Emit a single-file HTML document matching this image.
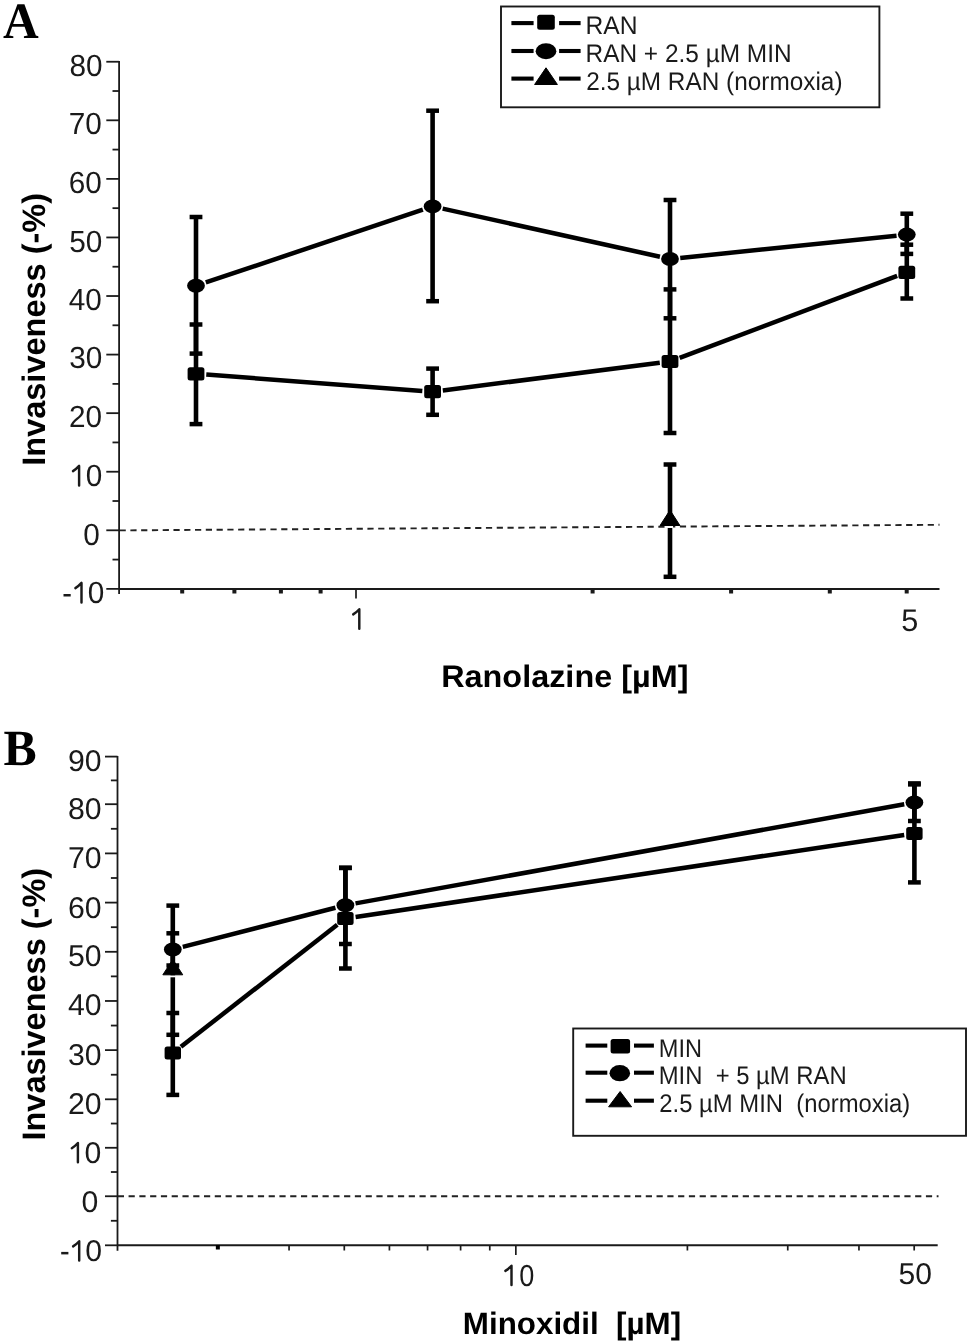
<!DOCTYPE html>
<html><head><meta charset="utf-8"><style>html,body{margin:0;padding:0;background:#fff;overflow:hidden}svg{display:block;will-change:transform}text{white-space:pre}svg{text-rendering:geometricPrecision}</style></head>
<body>
<svg width="968" height="1343" viewBox="0 0 968 1343">
<rect width="968" height="1343" fill="#fff"/>
<text transform="translate(2.92,37.60) scale(0.9694,1.0015)" font-family="'Liberation Serif', serif" font-weight="bold" font-size="51">A</text>
<line x1="119.10" y1="61.00" x2="119.10" y2="594.00" stroke="#1a1a1a" stroke-width="1.8"/>
<line x1="106.30" y1="61.74" x2="119.10" y2="61.74" stroke="#1a1a1a" stroke-width="1.8"/>
<line x1="106.30" y1="120.31" x2="119.10" y2="120.31" stroke="#1a1a1a" stroke-width="1.8"/>
<line x1="106.30" y1="178.88" x2="119.10" y2="178.88" stroke="#1a1a1a" stroke-width="1.8"/>
<line x1="106.30" y1="237.45" x2="119.10" y2="237.45" stroke="#1a1a1a" stroke-width="1.8"/>
<line x1="106.30" y1="296.02" x2="119.10" y2="296.02" stroke="#1a1a1a" stroke-width="1.8"/>
<line x1="106.30" y1="354.59" x2="119.10" y2="354.59" stroke="#1a1a1a" stroke-width="1.8"/>
<line x1="106.30" y1="413.16" x2="119.10" y2="413.16" stroke="#1a1a1a" stroke-width="1.8"/>
<line x1="106.30" y1="471.73" x2="119.10" y2="471.73" stroke="#1a1a1a" stroke-width="1.8"/>
<line x1="106.30" y1="530.30" x2="119.10" y2="530.30" stroke="#1a1a1a" stroke-width="1.8"/>
<line x1="106.30" y1="588.87" x2="119.10" y2="588.87" stroke="#1a1a1a" stroke-width="1.8"/>
<line x1="112.50" y1="91.02" x2="119.10" y2="91.02" stroke="#1a1a1a" stroke-width="1.8"/>
<line x1="112.50" y1="149.59" x2="119.10" y2="149.59" stroke="#1a1a1a" stroke-width="1.8"/>
<line x1="112.50" y1="208.16" x2="119.10" y2="208.16" stroke="#1a1a1a" stroke-width="1.8"/>
<line x1="112.50" y1="266.73" x2="119.10" y2="266.73" stroke="#1a1a1a" stroke-width="1.8"/>
<line x1="112.50" y1="325.30" x2="119.10" y2="325.30" stroke="#1a1a1a" stroke-width="1.8"/>
<line x1="112.50" y1="383.87" x2="119.10" y2="383.87" stroke="#1a1a1a" stroke-width="1.8"/>
<line x1="112.50" y1="442.44" x2="119.10" y2="442.44" stroke="#1a1a1a" stroke-width="1.8"/>
<line x1="112.50" y1="501.01" x2="119.10" y2="501.01" stroke="#1a1a1a" stroke-width="1.8"/>
<line x1="112.50" y1="559.58" x2="119.10" y2="559.58" stroke="#1a1a1a" stroke-width="1.8"/>
<text transform="translate(69.41,76.26) scale(0.9450,0.9708)" font-family="'Liberation Sans', sans-serif" font-weight="normal" font-size="31.5" fill="#1a1a1a">80</text>
<text transform="translate(68.71,134.46) scale(0.9450,0.9708)" font-family="'Liberation Sans', sans-serif" font-weight="normal" font-size="31.5" fill="#1a1a1a">70</text>
<text transform="translate(68.71,193.06) scale(0.9450,0.9708)" font-family="'Liberation Sans', sans-serif" font-weight="normal" font-size="31.5" fill="#1a1a1a">60</text>
<text transform="translate(69.21,251.66) scale(0.9450,0.9708)" font-family="'Liberation Sans', sans-serif" font-weight="normal" font-size="31.5" fill="#1a1a1a">50</text>
<text transform="translate(68.71,309.66) scale(0.9450,0.9708)" font-family="'Liberation Sans', sans-serif" font-weight="normal" font-size="31.5" fill="#1a1a1a">40</text>
<text transform="translate(69.21,368.26) scale(0.9450,0.9708)" font-family="'Liberation Sans', sans-serif" font-weight="normal" font-size="31.5" fill="#1a1a1a">30</text>
<text transform="translate(68.91,426.56) scale(0.9450,0.9708)" font-family="'Liberation Sans', sans-serif" font-weight="normal" font-size="31.5" fill="#1a1a1a">20</text>
<text transform="translate(85.84,486.16) scale(0.9450,0.9708)" font-family="'Liberation Sans', sans-serif" font-weight="normal" font-size="31.5" fill="#1a1a1a">0</text>
<path d="M73.00 471.10 Q76.10 469.20 79.10 465.90 L79.10 485.50" fill="none" stroke="#1a1a1a" stroke-width="2.45" stroke-linecap="round" stroke-linejoin="round"/>
<text transform="translate(83.24,544.56) scale(0.9450,0.9708)" font-family="'Liberation Sans', sans-serif" font-weight="normal" font-size="31.5" fill="#1a1a1a">0</text>
<text transform="translate(87.74,603.16) scale(0.9450,0.9708)" font-family="'Liberation Sans', sans-serif" font-weight="normal" font-size="31.5" fill="#1a1a1a">0</text>
<path d="M75.40 588.10 Q78.50 586.20 81.50 582.90 L81.50 602.50" fill="none" stroke="#1a1a1a" stroke-width="2.45" stroke-linecap="round" stroke-linejoin="round"/>
<rect x="63.50" y="594.00" width="7.2" height="2.5" fill="#1a1a1a"/>
<line x1="119.10" y1="589.00" x2="939.50" y2="589.00" stroke="#1a1a1a" stroke-width="1.9"/>
<rect x="180.20" y="589" width="4" height="4.5" fill="#1a1a1a"/>
<rect x="232.40" y="589" width="4" height="4.5" fill="#1a1a1a"/>
<rect x="278.90" y="589" width="4" height="4.5" fill="#1a1a1a"/>
<rect x="318.60" y="589" width="4" height="4.5" fill="#1a1a1a"/>
<rect x="590.60" y="589" width="4" height="4.5" fill="#1a1a1a"/>
<rect x="729.10" y="589" width="4" height="4.5" fill="#1a1a1a"/>
<rect x="827.80" y="589" width="4" height="4.5" fill="#1a1a1a"/>
<rect x="904.70" y="589" width="4" height="4.5" fill="#1a1a1a"/>
<line x1="356.00" y1="589.00" x2="356.00" y2="598.60" stroke="#1a1a1a" stroke-width="1.7"/>
<path d="M353.20 614.40 Q356.30 612.50 359.30 609.20 L359.30 628.70" fill="none" stroke="#1a1a1a" stroke-width="2.45" stroke-linecap="round" stroke-linejoin="round"/>
<text transform="translate(901.28,631.15) scale(0.9733,0.9955)" font-family="'Liberation Sans', sans-serif" font-weight="normal" font-size="31.5" fill="#1a1a1a">5</text>
<line x1="119.6" y1="530.4" x2="939.5" y2="524.8" stroke="#222" stroke-width="1.9" stroke-dasharray="6.2 4.575"/>
<text transform="translate(441.14,687.30) scale(1.0033,0.9633)" font-family="'Liberation Sans', sans-serif" font-weight="bold" font-size="32.3">Ranolazine [µM]</text>
<text transform="translate(44.80,465.75) rotate(-90) scale(1.0000,1)" font-family="'Liberation Sans', sans-serif" font-weight="bold" font-size="32.5">Invasiveness (-%)</text>
<line x1="196.00" y1="217.00" x2="196.00" y2="353.60" stroke="#000" stroke-width="4.6"/>
<line x1="189.60" y1="217.00" x2="202.40" y2="217.00" stroke="#000" stroke-width="4.5"/>
<line x1="189.60" y1="353.60" x2="202.40" y2="353.60" stroke="#000" stroke-width="4.5"/>
<line x1="432.60" y1="110.70" x2="432.60" y2="301.20" stroke="#000" stroke-width="4.6"/>
<line x1="426.20" y1="110.70" x2="439.00" y2="110.70" stroke="#000" stroke-width="4.5"/>
<line x1="426.20" y1="301.20" x2="439.00" y2="301.20" stroke="#000" stroke-width="4.5"/>
<line x1="670.00" y1="200.00" x2="670.00" y2="318.30" stroke="#000" stroke-width="4.6"/>
<line x1="663.60" y1="200.00" x2="676.40" y2="200.00" stroke="#000" stroke-width="4.5"/>
<line x1="663.60" y1="318.30" x2="676.40" y2="318.30" stroke="#000" stroke-width="4.5"/>
<line x1="906.80" y1="213.70" x2="906.80" y2="253.90" stroke="#000" stroke-width="4.6"/>
<line x1="900.40" y1="213.70" x2="913.20" y2="213.70" stroke="#000" stroke-width="4.5"/>
<line x1="900.40" y1="253.90" x2="913.20" y2="253.90" stroke="#000" stroke-width="4.5"/>
<line x1="196.00" y1="324.50" x2="196.00" y2="424.10" stroke="#000" stroke-width="4.6"/>
<line x1="189.60" y1="324.50" x2="202.40" y2="324.50" stroke="#000" stroke-width="4.5"/>
<line x1="189.60" y1="424.10" x2="202.40" y2="424.10" stroke="#000" stroke-width="4.5"/>
<line x1="432.60" y1="368.60" x2="432.60" y2="414.80" stroke="#000" stroke-width="4.6"/>
<line x1="426.20" y1="368.60" x2="439.00" y2="368.60" stroke="#000" stroke-width="4.5"/>
<line x1="426.20" y1="414.80" x2="439.00" y2="414.80" stroke="#000" stroke-width="4.5"/>
<line x1="670.00" y1="289.40" x2="670.00" y2="433.00" stroke="#000" stroke-width="4.6"/>
<line x1="663.60" y1="289.40" x2="676.40" y2="289.40" stroke="#000" stroke-width="4.5"/>
<line x1="663.60" y1="433.00" x2="676.40" y2="433.00" stroke="#000" stroke-width="4.5"/>
<line x1="906.80" y1="244.70" x2="906.80" y2="298.50" stroke="#000" stroke-width="4.6"/>
<line x1="900.40" y1="244.70" x2="913.20" y2="244.70" stroke="#000" stroke-width="4.5"/>
<line x1="900.40" y1="298.50" x2="913.20" y2="298.50" stroke="#000" stroke-width="4.5"/>
<line x1="670.00" y1="464.50" x2="670.00" y2="576.80" stroke="#000" stroke-width="4.6"/>
<line x1="663.60" y1="464.50" x2="676.40" y2="464.50" stroke="#000" stroke-width="4.5"/>
<line x1="663.60" y1="576.80" x2="676.40" y2="576.80" stroke="#000" stroke-width="4.5"/>
<line x1="205.77" y1="282.43" x2="422.83" y2="209.67" stroke="#000" stroke-width="4.5"/>
<line x1="442.66" y1="208.63" x2="659.94" y2="256.77" stroke="#000" stroke-width="4.5"/>
<line x1="680.25" y1="257.94" x2="896.55" y2="235.66" stroke="#000" stroke-width="4.5"/>
<line x1="206.27" y1="374.58" x2="422.33" y2="390.92" stroke="#000" stroke-width="4.5"/>
<line x1="442.82" y1="390.40" x2="659.78" y2="362.80" stroke="#000" stroke-width="4.5"/>
<line x1="679.64" y1="357.87" x2="897.16" y2="275.93" stroke="#000" stroke-width="4.5"/>
<ellipse cx="196.00" cy="285.70" rx="8.9" ry="7.0" fill="#000"/>
<ellipse cx="432.60" cy="206.40" rx="8.9" ry="7.0" fill="#000"/>
<ellipse cx="670.00" cy="259.00" rx="8.9" ry="7.0" fill="#000"/>
<ellipse cx="906.80" cy="234.60" rx="8.9" ry="7.0" fill="#000"/>
<rect x="187.60" y="367.20" width="16.8" height="13.2" rx="2.5" fill="#000"/>
<rect x="424.20" y="385.10" width="16.8" height="13.2" rx="2.5" fill="#000"/>
<rect x="661.60" y="354.90" width="16.8" height="13.2" rx="2.5" fill="#000"/>
<rect x="898.40" y="265.70" width="16.8" height="13.2" rx="2.5" fill="#000"/>
<rect x="667.00" y="526.00" width="6" height="2" fill="#fff"/>
<path d="M660.05 525.50 L670.00 510.10 L679.95 525.50Z" fill="#000" stroke="#000" stroke-width="1" stroke-linejoin="round"/>
<rect x="501" y="6.5" width="378.4" height="100.8" fill="none" stroke="#1a1a1a" stroke-width="1.9"/>
<line x1="511.40" y1="23.10" x2="533.60" y2="23.10" stroke="#000" stroke-width="4.1"/>
<line x1="559.10" y1="23.10" x2="580.60" y2="23.10" stroke="#000" stroke-width="4.1"/>
<line x1="511.40" y1="51.00" x2="533.60" y2="51.00" stroke="#000" stroke-width="4.1"/>
<line x1="559.10" y1="51.00" x2="580.60" y2="51.00" stroke="#000" stroke-width="4.1"/>
<line x1="511.40" y1="78.60" x2="533.60" y2="78.60" stroke="#000" stroke-width="4.1"/>
<line x1="559.10" y1="78.60" x2="580.60" y2="78.60" stroke="#000" stroke-width="4.1"/>
<rect x="537.2" y="14.8" width="17.6" height="15" rx="2.5" fill="#000"/>
<ellipse cx="546" cy="51.2" rx="10.35" ry="8" fill="#000"/>
<path d="M534.6 84.5 L546 67.8 L557.4 84.5Z" fill="#000" stroke="#000" stroke-width="1" stroke-linejoin="round"/>
<text transform="translate(585.47,34.44) scale(0.9485,0.9800)" font-family="'Liberation Sans', sans-serif" font-weight="normal" font-size="26" fill="#1a1a1a">RAN</text>
<text transform="translate(585.49,62.20) scale(0.9395,0.9800)" font-family="'Liberation Sans', sans-serif" font-weight="normal" font-size="26" fill="#1a1a1a">RAN + 2.5 µM MIN</text>
<text transform="translate(586.13,89.86) scale(0.9370,0.9800)" font-family="'Liberation Sans', sans-serif" font-weight="normal" font-size="26" fill="#1a1a1a">2.5 µM RAN (normoxia)</text>
<text transform="translate(3.55,764.80) scale(0.9952,1.0137)" font-family="'Liberation Serif', serif" font-weight="bold" font-size="50">B</text>
<line x1="117.50" y1="756.00" x2="117.50" y2="1250.70" stroke="#1a1a1a" stroke-width="1.8"/>
<line x1="105.00" y1="756.60" x2="117.50" y2="756.60" stroke="#1a1a1a" stroke-width="1.8"/>
<line x1="105.00" y1="804.20" x2="117.50" y2="804.20" stroke="#1a1a1a" stroke-width="1.8"/>
<line x1="105.00" y1="853.40" x2="117.50" y2="853.40" stroke="#1a1a1a" stroke-width="1.8"/>
<line x1="105.00" y1="902.60" x2="117.50" y2="902.60" stroke="#1a1a1a" stroke-width="1.8"/>
<line x1="105.00" y1="951.80" x2="117.50" y2="951.80" stroke="#1a1a1a" stroke-width="1.8"/>
<line x1="105.00" y1="1000.97" x2="117.50" y2="1000.97" stroke="#1a1a1a" stroke-width="1.8"/>
<line x1="105.00" y1="1050.13" x2="117.50" y2="1050.13" stroke="#1a1a1a" stroke-width="1.8"/>
<line x1="105.00" y1="1099.30" x2="117.50" y2="1099.30" stroke="#1a1a1a" stroke-width="1.8"/>
<line x1="105.00" y1="1147.78" x2="117.50" y2="1147.78" stroke="#1a1a1a" stroke-width="1.8"/>
<line x1="105.00" y1="1196.25" x2="117.50" y2="1196.25" stroke="#1a1a1a" stroke-width="1.8"/>
<line x1="105.00" y1="1245.30" x2="117.50" y2="1245.30" stroke="#1a1a1a" stroke-width="1.8"/>
<line x1="110.90" y1="780.40" x2="117.50" y2="780.40" stroke="#1a1a1a" stroke-width="1.8"/>
<line x1="110.90" y1="828.80" x2="117.50" y2="828.80" stroke="#1a1a1a" stroke-width="1.8"/>
<line x1="110.90" y1="878.00" x2="117.50" y2="878.00" stroke="#1a1a1a" stroke-width="1.8"/>
<line x1="110.90" y1="927.20" x2="117.50" y2="927.20" stroke="#1a1a1a" stroke-width="1.8"/>
<line x1="110.90" y1="976.38" x2="117.50" y2="976.38" stroke="#1a1a1a" stroke-width="1.8"/>
<line x1="110.90" y1="1025.55" x2="117.50" y2="1025.55" stroke="#1a1a1a" stroke-width="1.8"/>
<line x1="110.90" y1="1074.72" x2="117.50" y2="1074.72" stroke="#1a1a1a" stroke-width="1.8"/>
<line x1="110.90" y1="1123.54" x2="117.50" y2="1123.54" stroke="#1a1a1a" stroke-width="1.8"/>
<line x1="110.90" y1="1172.01" x2="117.50" y2="1172.01" stroke="#1a1a1a" stroke-width="1.8"/>
<line x1="110.90" y1="1220.78" x2="117.50" y2="1220.78" stroke="#1a1a1a" stroke-width="1.8"/>
<text transform="translate(67.90,770.76) scale(0.9600,0.9528)" font-family="'Liberation Sans', sans-serif" font-weight="normal" font-size="31.5" fill="#1a1a1a">90</text>
<text transform="translate(67.90,819.46) scale(0.9600,0.9528)" font-family="'Liberation Sans', sans-serif" font-weight="normal" font-size="31.5" fill="#1a1a1a">80</text>
<text transform="translate(67.90,868.46) scale(0.9600,0.9528)" font-family="'Liberation Sans', sans-serif" font-weight="normal" font-size="31.5" fill="#1a1a1a">70</text>
<text transform="translate(67.90,917.76) scale(0.9600,0.9528)" font-family="'Liberation Sans', sans-serif" font-weight="normal" font-size="31.5" fill="#1a1a1a">60</text>
<text transform="translate(67.90,966.06) scale(0.9600,0.9528)" font-family="'Liberation Sans', sans-serif" font-weight="normal" font-size="31.5" fill="#1a1a1a">50</text>
<text transform="translate(67.90,1015.26) scale(0.9600,0.9528)" font-family="'Liberation Sans', sans-serif" font-weight="normal" font-size="31.5" fill="#1a1a1a">40</text>
<text transform="translate(67.90,1064.56) scale(0.9600,0.9528)" font-family="'Liberation Sans', sans-serif" font-weight="normal" font-size="31.5" fill="#1a1a1a">30</text>
<text transform="translate(67.90,1113.76) scale(0.9600,0.9528)" font-family="'Liberation Sans', sans-serif" font-weight="normal" font-size="31.5" fill="#1a1a1a">20</text>
<text transform="translate(84.40,1162.86) scale(0.9600,0.9528)" font-family="'Liberation Sans', sans-serif" font-weight="normal" font-size="31.5" fill="#1a1a1a">0</text>
<path d="M71.80 1148.20 Q74.90 1146.30 77.90 1143.00 L77.90 1162.20" fill="none" stroke="#1a1a1a" stroke-width="2.45" stroke-linecap="round" stroke-linejoin="round"/>
<text transform="translate(81.40,1211.56) scale(0.9600,0.9528)" font-family="'Liberation Sans', sans-serif" font-weight="normal" font-size="31.5" fill="#1a1a1a">0</text>
<text transform="translate(85.20,1261.06) scale(0.9600,0.9528)" font-family="'Liberation Sans', sans-serif" font-weight="normal" font-size="31.5" fill="#1a1a1a">0</text>
<path d="M73.10 1246.40 Q76.20 1244.50 79.20 1241.20 L79.20 1260.40" fill="none" stroke="#1a1a1a" stroke-width="2.45" stroke-linecap="round" stroke-linejoin="round"/>
<rect x="61.20" y="1251.90" width="7.2" height="2.5" fill="#1a1a1a"/>
<line x1="117.50" y1="1245.30" x2="937.70" y2="1245.30" stroke="#1a1a1a" stroke-width="1.9"/>
<rect x="215.85" y="1245" width="4" height="4.5" fill="#000"/>
<line x1="289.06" y1="1245.00" x2="289.06" y2="1250.50" stroke="#1a1a1a" stroke-width="1.7"/>
<line x1="344.29" y1="1245.00" x2="344.29" y2="1250.50" stroke="#1a1a1a" stroke-width="1.7"/>
<line x1="389.41" y1="1245.00" x2="389.41" y2="1250.50" stroke="#1a1a1a" stroke-width="1.7"/>
<line x1="427.56" y1="1245.00" x2="427.56" y2="1250.50" stroke="#1a1a1a" stroke-width="1.7"/>
<line x1="460.61" y1="1245.00" x2="460.61" y2="1250.50" stroke="#1a1a1a" stroke-width="1.7"/>
<line x1="489.77" y1="1245.00" x2="489.77" y2="1250.50" stroke="#1a1a1a" stroke-width="1.7"/>
<line x1="687.40" y1="1245.00" x2="687.40" y2="1250.50" stroke="#1a1a1a" stroke-width="1.7"/>
<line x1="787.75" y1="1245.00" x2="787.75" y2="1250.50" stroke="#1a1a1a" stroke-width="1.7"/>
<line x1="858.96" y1="1245.00" x2="858.96" y2="1250.50" stroke="#1a1a1a" stroke-width="1.7"/>
<line x1="914.19" y1="1245.00" x2="914.19" y2="1250.50" stroke="#1a1a1a" stroke-width="1.7"/>
<line x1="515.84" y1="1245.00" x2="515.84" y2="1255.00" stroke="#1a1a1a" stroke-width="1.7"/>
<text transform="translate(519.22,1285.76) scale(0.8600,0.9618)" font-family="'Liberation Sans', sans-serif" font-weight="normal" font-size="31.5" fill="#1a1a1a">0</text>
<path d="M505.40 1270.90 Q508.50 1269.00 511.50 1265.70 L511.50 1285.10" fill="none" stroke="#1a1a1a" stroke-width="2.45" stroke-linecap="round" stroke-linejoin="round"/>
<text transform="translate(898.61,1283.96) scale(0.9538,0.9528)" font-family="'Liberation Sans', sans-serif" font-weight="normal" font-size="31.5" fill="#1a1a1a">50</text>
<line x1="117.8" y1="1196.3" x2="938.5" y2="1196.3" stroke="#222" stroke-width="1.9" stroke-dasharray="6.2 4.575"/>
<text transform="translate(462.82,1334.44) scale(0.9708,0.9567)" font-family="'Liberation Sans', sans-serif" font-weight="bold" font-size="32.3">Minoxidil  [µM]</text>
<text transform="translate(44.80,1140.55) rotate(-90) scale(0.9996,1)" font-family="'Liberation Sans', sans-serif" font-weight="bold" font-size="32.5">Invasiveness (-%)</text>
<line x1="172.80" y1="933.30" x2="172.80" y2="965.50" stroke="#000" stroke-width="4.6"/>
<line x1="166.40" y1="933.30" x2="179.20" y2="933.30" stroke="#000" stroke-width="4.5"/>
<line x1="166.40" y1="965.50" x2="179.20" y2="965.50" stroke="#000" stroke-width="4.5"/>
<line x1="345.40" y1="867.70" x2="345.40" y2="944.00" stroke="#000" stroke-width="4.6"/>
<line x1="339.00" y1="867.70" x2="351.80" y2="867.70" stroke="#000" stroke-width="4.5"/>
<line x1="339.00" y1="944.00" x2="351.80" y2="944.00" stroke="#000" stroke-width="4.5"/>
<line x1="914.40" y1="783.40" x2="914.40" y2="821.00" stroke="#000" stroke-width="4.6"/>
<line x1="908.00" y1="783.40" x2="920.80" y2="783.40" stroke="#000" stroke-width="4.5"/>
<line x1="908.00" y1="821.00" x2="920.80" y2="821.00" stroke="#000" stroke-width="4.5"/>
<line x1="172.80" y1="1013.00" x2="172.80" y2="1094.90" stroke="#000" stroke-width="4.6"/>
<line x1="166.40" y1="1013.00" x2="179.20" y2="1013.00" stroke="#000" stroke-width="4.5"/>
<line x1="166.40" y1="1094.90" x2="179.20" y2="1094.90" stroke="#000" stroke-width="4.5"/>
<line x1="345.40" y1="868.00" x2="345.40" y2="968.50" stroke="#000" stroke-width="4.6"/>
<line x1="339.00" y1="868.00" x2="351.80" y2="868.00" stroke="#000" stroke-width="4.5"/>
<line x1="339.00" y1="968.50" x2="351.80" y2="968.50" stroke="#000" stroke-width="4.5"/>
<line x1="914.40" y1="784.40" x2="914.40" y2="882.40" stroke="#000" stroke-width="4.6"/>
<line x1="908.00" y1="784.40" x2="920.80" y2="784.40" stroke="#000" stroke-width="4.5"/>
<line x1="908.00" y1="882.40" x2="920.80" y2="882.40" stroke="#000" stroke-width="4.5"/>
<line x1="172.80" y1="905.60" x2="172.80" y2="1034.80" stroke="#000" stroke-width="4.6"/>
<line x1="166.40" y1="905.60" x2="179.20" y2="905.60" stroke="#000" stroke-width="4.5"/>
<line x1="166.40" y1="1034.80" x2="179.20" y2="1034.80" stroke="#000" stroke-width="4.5"/>
<line x1="182.78" y1="946.94" x2="335.42" y2="907.76" stroke="#000" stroke-width="4.5"/>
<line x1="355.54" y1="903.37" x2="904.26" y2="804.33" stroke="#000" stroke-width="4.5"/>
<line x1="180.92" y1="1046.77" x2="337.28" y2="924.83" stroke="#000" stroke-width="4.5"/>
<line x1="355.59" y1="916.98" x2="904.21" y2="834.92" stroke="#000" stroke-width="4.5"/>
<ellipse cx="172.80" cy="949.50" rx="8.9" ry="7.0" fill="#000"/>
<ellipse cx="345.40" cy="905.20" rx="8.9" ry="7.0" fill="#000"/>
<ellipse cx="914.40" cy="802.50" rx="8.9" ry="7.0" fill="#000"/>
<rect x="164.60" y="1046.60" width="16.4" height="13" rx="2.5" fill="#000"/>
<rect x="337.20" y="912.00" width="16.4" height="13" rx="2.5" fill="#000"/>
<rect x="906.20" y="826.90" width="16.4" height="13" rx="2.5" fill="#000"/>
<rect x="169.80" y="975.30" width="6" height="2" fill="#fff"/>
<path d="M162.85 974.80 L172.80 959.40 L182.75 974.80Z" fill="#000" stroke="#000" stroke-width="1" stroke-linejoin="round"/>
<rect x="573.2" y="1028.5" width="392.8" height="107.3" fill="none" stroke="#1a1a1a" stroke-width="1.9"/>
<line x1="585.60" y1="1045.60" x2="607.30" y2="1045.60" stroke="#000" stroke-width="4.1"/>
<line x1="634.00" y1="1045.60" x2="653.90" y2="1045.60" stroke="#000" stroke-width="4.1"/>
<line x1="585.60" y1="1072.70" x2="607.30" y2="1072.70" stroke="#000" stroke-width="4.1"/>
<line x1="634.00" y1="1072.70" x2="653.90" y2="1072.70" stroke="#000" stroke-width="4.1"/>
<line x1="585.60" y1="1100.70" x2="607.30" y2="1100.70" stroke="#000" stroke-width="4.1"/>
<line x1="634.00" y1="1100.70" x2="653.90" y2="1100.70" stroke="#000" stroke-width="4.1"/>
<rect x="610.6" y="1039" width="19.5" height="14.6" rx="2.5" fill="#000"/>
<ellipse cx="619.8" cy="1073.2" rx="10.3" ry="8.1" fill="#000"/>
<path d="M608.6 1106.8 L620.1 1091.5 L631.6 1106.8Z" fill="#000" stroke="#000" stroke-width="1" stroke-linejoin="round"/>
<text transform="translate(658.76,1057.00) scale(0.9064,0.9800)" font-family="'Liberation Sans', sans-serif" font-weight="normal" font-size="26" fill="#1a1a1a">MIN</text>
<text transform="translate(658.74,1084.30) scale(0.9167,0.9800)" font-family="'Liberation Sans', sans-serif" font-weight="normal" font-size="26" fill="#1a1a1a">MIN  + 5 µM RAN</text>
<text transform="translate(659.35,1112.00) scale(0.9171,0.9800)" font-family="'Liberation Sans', sans-serif" font-weight="normal" font-size="26" fill="#1a1a1a">2.5 µM MIN  (normoxia)</text>
</svg>
</body></html>
